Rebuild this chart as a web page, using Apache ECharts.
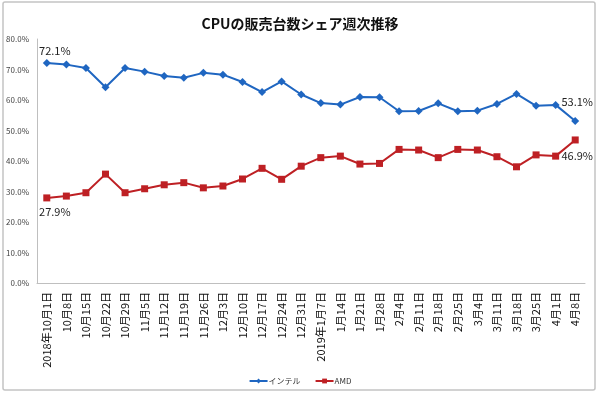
<!DOCTYPE html>
<html>
<head>
<meta charset="utf-8">
<script src="https://cdn.jsdelivr.net/npm/echarts@6/dist/echarts.min.js"></script>
<style>
  html, body { margin: 0; padding: 0; background: #fff; }
  #chart { width: 600px; height: 397px; }
</style>
</head>
<body>
<div id="chart"></div>
<script>
  // 週次の日付
  var weeks = ['2018年10月1日', '10月8日', '10月15日', '10月22日', '10月29日', '11月5日', '11月12日',
    '11月19日', '11月26日', '12月3日', '12月10日', '12月17日', '12月24日', '12月31日', '2019年1月7日',
    '1月14日', '1月21日', '1月28日', '2月4日', '2月11日', '2月18日', '2月25日', '3月4日', '3月11日',
    '3月18日', '3月25日', '4月1日', '4月8日']
  // シェア (%)
  var intel = [72.1, 71.6, 70.5, 64.2, 70.5, 69.3, 67.9, 67.3, 68.9, 68.3, 65.9, 62.6, 66.1, 61.8,
    59.0, 58.5, 61.0, 60.9, 56.3, 56.4, 58.9, 56.3, 56.5, 58.7, 62.0, 58.1, 58.4, 53.1]
  var amd = [27.9, 28.5, 29.6, 35.7, 29.6, 30.9, 32.2, 32.9, 31.2, 31.8, 34.1, 37.6, 34.0, 38.3,
    41.1, 41.6, 39.0, 39.2, 43.8, 43.6, 41.1, 43.8, 43.6, 41.4, 38.1, 42.0, 41.6, 46.9]
  var yTicks = { min: 0, max: 80, step: 10 }

  var chart = echarts.init(document.getElementById('chart'))

  var labelFont = { fontSize: 11, color: '#222', fontFamily: 'Noto Sans CJK JP' }

  // 最初と最後の点だけラベルを出す
  function withEndLabels (values, firstPos, firstOff, lastPos, lastOff) {
    return values.map(function (v, i) {
      if (i === 0) {
        return { value: v, label: Object.assign({ show: true, position: firstPos, offset: firstOff }, labelFont) }
      }
      if (i === values.length - 1) {
        return { value: v, label: Object.assign({ show: true, position: lastPos, offset: lastOff }, labelFont) }
      }
      return v
    })
  }

  chart.setOption({
    animation: false,
    textStyle: { fontFamily: 'Noto Sans CJK JP' },
    title: {
      text: 'CPUの販売台数シェア週次推移',
      left: 'center',
      top: 12,
      textStyle: { fontSize: 14, fontWeight: 'bold', color: '#111', fontFamily: 'Noto Sans CJK JP' }
    },
    graphic: [{
      type: 'rect',
      shape: { x: 3, y: 2, width: 592, height: 388, r: 2 },
      style: { fill: 'none', stroke: '#c4c4c4', lineWidth: 1.5 },
      silent: true
    }],
    legend: {
      top: 372,
      left: 'center',
      itemWidth: 18,
      itemHeight: 6,
      itemGap: 14,
      textStyle: { fontSize: 8, color: '#333', padding: [0, 0, 0, -4] },
      data: ['インテル', 'AMD']
    },
    grid: { left: 37, right: 15, top: 39, bottom: 114, containLabel: false },
    xAxis: {
      type: 'category',
      data: weeks,
      boundaryGap: true,
      axisLine: { lineStyle: { color: '#bfbfbf', width: 1 } },
      axisTick: { show: false },
      axisLabel: {
        rotate: 90,
        interval: 0,
        margin: 9,
        fontSize: 11,
        color: '#111',
        fontFamily: 'Noto Sans CJK JP'
      }
    },
    yAxis: {
      type: 'value',
      min: yTicks.min,
      max: yTicks.max,
      interval: yTicks.step,
      axisLine: { show: true, lineStyle: { color: '#bfbfbf', width: 1 } },
      axisTick: { show: false },
      splitLine: { show: false },
      axisLabel: {
        fontSize: 8,
        color: '#444',
        margin: 8,
        formatter: function (v) { return v.toFixed(1) + '%' }
      }
    },
    series: [
      {
        name: 'インテル',
        type: 'line',
        data: withEndLabels(intel, 'top', [8, 2], 'top', [2, -5]),
        symbol: 'diamond',
        symbolSize: 8,
        lineStyle: { color: '#1f66c1', width: 2 },
        itemStyle: { color: '#1f66c1' },
        label: {
          formatter: function (p) { return p.value.toFixed(1) + '%' }
        }
      },
      {
        name: 'AMD',
        type: 'line',
        data: withEndLabels(amd, 'bottom', [8, 0], 'bottom', [2, 2]),
        symbol: 'rect',
        symbolSize: 7,
        lineStyle: { color: '#be2024', width: 2 },
        itemStyle: { color: '#be2024' },
        label: {
          formatter: function (p) { return p.value.toFixed(1) + '%' }
        }
      }
    ]
  })
</script>
</body>
</html>
